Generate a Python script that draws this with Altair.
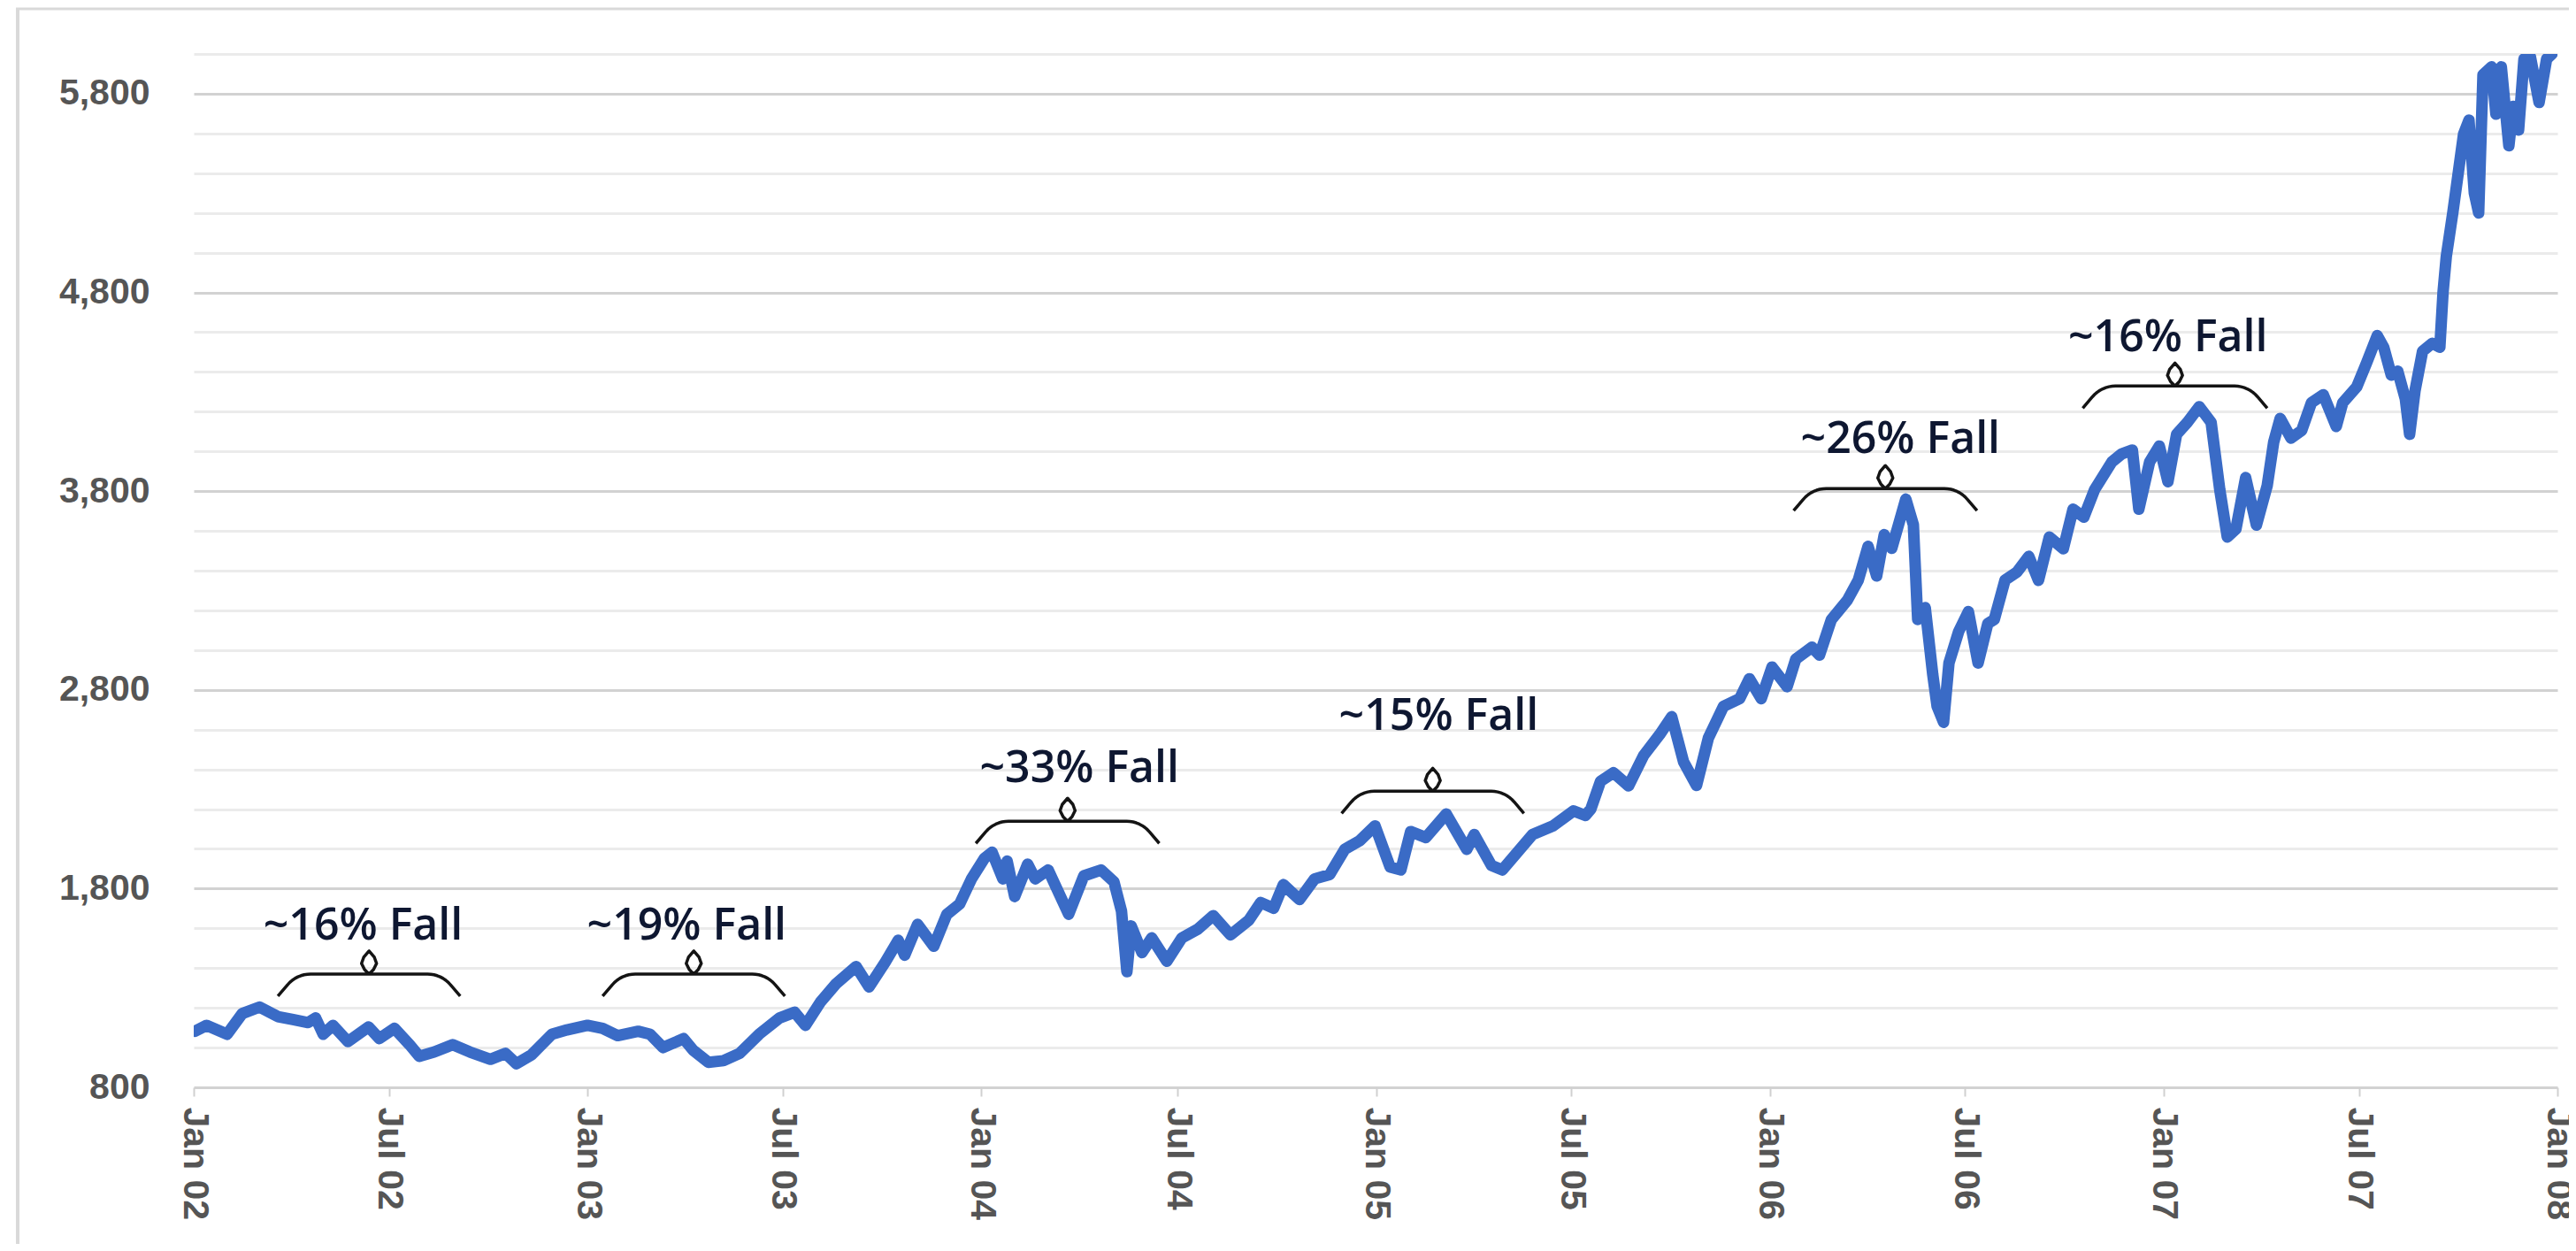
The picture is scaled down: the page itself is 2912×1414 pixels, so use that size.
import math
import altair as alt
import pandas as pd

# ---------------- data ----------------
dates = [
    "2002-01-02", "2002-01-13", "2002-02-01", "2002-02-15", "2002-03-03", "2002-03-20",
    "2002-04-03", "2002-04-17", "2002-04-24", "2002-05-01", "2002-05-10", "2002-05-24",
    "2002-06-12", "2002-06-22", "2002-07-06", "2002-07-20", "2002-07-29", "2002-08-12",
    "2002-08-29", "2002-09-14", "2002-10-03", "2002-10-17", "2002-10-27", "2002-11-10",
    "2002-11-29", "2002-12-13", "2003-01-01", "2003-01-15", "2003-01-29", "2003-02-17",
    "2003-02-28", "2003-03-12", "2003-03-31", "2003-04-09", "2003-04-23", "2003-05-07",
    "2003-05-22", "2003-06-09", "2003-06-28", "2003-07-12", "2003-07-22", "2003-08-05",
    "2003-08-19", "2003-09-07", "2003-09-19", "2003-10-04", "2003-10-16", "2003-10-22",
    "2003-11-03", "2003-11-18", "2003-11-30", "2003-12-12", "2003-12-23",
    "2004-01-04", "2004-01-11", "2004-01-21", "2004-01-25", "2004-02-01", "2004-02-13",
    "2004-02-20", "2004-03-03", "2004-03-22", "2004-04-05", "2004-04-21", "2004-05-03",
    "2004-05-10", "2004-05-15", "2004-05-19", "2004-05-29", "2004-06-07", "2004-06-21",
    "2004-07-05", "2004-07-20", "2004-08-03", "2004-08-19", "2004-09-05", "2004-09-16",
    "2004-09-28", "2004-10-07", "2004-10-22", "2004-11-05", "2004-11-19", "2004-12-03",
    "2004-12-17", "2004-12-31", "2005-01-14", "2005-01-24", "2005-02-02", "2005-02-16",
    "2005-03-07", "2005-03-26", "2005-04-02", "2005-04-18", "2005-04-28", "2005-05-12",
    "2005-05-26", "2005-06-14", "2005-07-03", "2005-07-14", "2005-07-19", "2005-07-28",
    "2005-08-09", "2005-08-23", "2005-09-06", "2005-09-21", "2005-10-02", "2005-10-13",
    "2005-10-25", "2005-11-05", "2005-11-19", "2005-12-04", "2005-12-13", "2005-12-24",
    "2006-01-03", "2006-01-17", "2006-01-25", "2006-02-09", "2006-02-16", "2006-02-27",
    "2006-03-14", "2006-03-24", "2006-04-02", "2006-04-10", "2006-04-17", "2006-04-24",
    "2006-05-07", "2006-05-14", "2006-05-18", "2006-05-25", "2006-06-01", "2006-06-05",
    "2006-06-11", "2006-06-16", "2006-06-25", "2006-07-04", "2006-07-13", "2006-07-22",
    "2006-07-28", "2006-08-07", "2006-08-18", "2006-08-29", "2006-09-07", "2006-09-17",
    "2006-09-30", "2006-10-09", "2006-10-19", "2006-10-29", "2006-11-14", "2006-11-23",
    "2006-12-03", "2006-12-09", "2006-12-19", "2006-12-28", "2007-01-05", "2007-01-13",
    "2007-01-23", "2007-02-03", "2007-02-14", "2007-02-22", "2007-03-01", "2007-03-09",
    "2007-03-18", "2007-03-28", "2007-04-07", "2007-04-13", "2007-04-19", "2007-04-29",
    "2007-05-09", "2007-05-18", "2007-05-29", "2007-06-10", "2007-06-16", "2007-06-29",
    "2007-07-08", "2007-07-18", "2007-07-24", "2007-07-31", "2007-08-06", "2007-08-13",
    "2007-08-17", "2007-08-22", "2007-08-29", "2007-09-07", "2007-09-14", "2007-09-17",
    "2007-09-20", "2007-09-26", "2007-10-01", "2007-10-06", "2007-10-11", "2007-10-16",
    "2007-10-20", "2007-10-24", "2007-11-01", "2007-11-05", "2007-11-10", "2007-11-17",
    "2007-11-21", "2007-11-26", "2007-12-01", "2007-12-07", "2007-12-15", "2007-12-22",
    "2007-12-27",
]
values = [
    1082, 1112, 1067, 1171, 1204, 1156,
    1141, 1126, 1149, 1067, 1112, 1030,
    1104, 1045, 1097, 1015, 956, 978,
    1015, 978, 941, 971, 919, 963,
    1067, 1089, 1112, 1097, 1060, 1082,
    1067, 1000, 1045, 986, 926, 934,
    971, 1067, 1149, 1178, 1112, 1230,
    1319, 1408, 1305, 1430, 1540, 1465,
    1620, 1510, 1670, 1723, 1850,
    1953, 1983, 1849, 1938, 1760, 1923,
    1849, 1894, 1671, 1864, 1894, 1834,
    1686, 1382, 1612, 1478, 1552, 1434,
    1552, 1597, 1664, 1567, 1641, 1730,
    1701, 1820, 1745, 1849, 1871, 1998,
    2042, 2116, 1909, 1894, 2087, 2057,
    2176, 1998, 2072, 1916, 1894, 1983,
    2072, 2116, 2191, 2168, 2200, 2340,
    2383, 2317, 2470, 2576, 2665, 2438,
    2319, 2558, 2717, 2756, 2856, 2756,
    2915, 2816, 2955, 3015, 2975, 3154,
    3253, 3353, 3522, 3373, 3581, 3512,
    3760, 3631, 3154, 3214, 2876, 2717,
    2637, 2935, 3094, 3194, 2935, 3134,
    3154, 3353, 3393, 3472, 3351, 3569,
    3510, 3709, 3669, 3808, 3947, 3987,
    4007, 3709, 3947, 4027, 3848, 4086,
    4146, 4225, 4146, 3808, 3569, 3609,
    3868, 3629, 3828, 4047, 4166, 4067,
    4106, 4245, 4285, 4126, 4245, 4325,
    4444, 4583, 4524, 4384, 4404, 4265,
    4086, 4305, 4504, 4544, 4524, 4802,
    4981, 5200, 5398, 5597, 5667, 5299,
    5200, 5895, 5935, 5697, 5935, 5538,
    5736, 5617, 5975, 5985, 5756, 5975,
    6000,
]

# annotations: brace span (start, end, level) and label (x, y)
brace_starts = ["2002-03-20", "2003-01-15", "2003-12-27", "2004-11-30", "2006-01-23", "2006-10-18"]
brace_ends = ["2002-09-05", "2003-07-03", "2004-06-14", "2005-05-18", "2006-07-12", "2007-04-07"]
brace_levels = [1370, 1370, 2139, 2290, 3813, 4329]
labels = ["~16% Fall", "~19% Fall", "~33% Fall", "~15% Fall", "~26% Fall", "~16% Fall"]
label_dates = ["2002-06-07", "2003-04-03", "2004-04-01", "2005-02-28", "2006-05-02", "2007-01-05"]
label_levels = [1543, 1543, 2336, 2599, 3992, 4504]

x_ticks = ["2002-01-01", "2002-07-01", "2003-01-01", "2003-07-01", "2004-01-01", "2004-07-01",
           "2005-01-01", "2005-07-01", "2006-01-01", "2006-07-01", "2007-01-01", "2007-07-01",
           "2008-01-01"]
y_ticks = list(range(800, 6001, 200))

# ---------------- helpers ----------------


def ms(s):
    return int(pd.Timestamp(s, tz="UTC").value // 10**6)


W, H = 2672, 1168
X_DOMAIN = [ms("2002-01-01"), ms("2008-01-01")]
Y_DOMAIN = [800, 6000]
PX_PER_MS = W / (X_DOMAIN[1] - X_DOMAIN[0])
PX_PER_UNIT = H / (Y_DOMAIN[1] - Y_DOMAIN[0])

line_df = pd.DataFrame({"t": [ms(d) for d in dates], "v": values})


def brace_shape(half):
    # brace outline in pixel offsets (dx right, dy up) around its centre
    r, phi, drop, run = 34.0, math.radians(50), 25.0, 37.0
    left = [(-half, -drop)]
    for k in range(0, 9):
        a = math.radians(140) - phi * k / 8
        left.append((-half + run + r * math.cos(a), -r + r * math.sin(a)))
    loop = [(0, 0), (5, 5), (8.5, 12), (6, 19), (0, 26), (-6, 19), (-8.5, 12), (-5, 5), (0, 0)]
    right = [(-x, y) for (x, y) in reversed(left)]
    return left + loop + right


rows = []
for i, (s, e, lv) in enumerate(zip(brace_starts, brace_ends, brace_levels)):
    t0, t1 = ms(s), ms(e)
    c = (t0 + t1) / 2
    half = (t1 - t0) * PX_PER_MS / 2
    for k, (dx, dy) in enumerate(brace_shape(half)):
        rows.append({"id": i, "k": k, "t": c + dx / PX_PER_MS, "v": lv + dy / PX_PER_UNIT})
brace_df = pd.DataFrame(rows)

text_df = pd.DataFrame({"t": [ms(d) for d in label_dates], "v": label_levels, "label": labels})

# ---------------- chart ----------------
x_scale = alt.Scale(type="utc", domain=X_DOMAIN, nice=False)
y_scale = alt.Scale(domain=Y_DOMAIN, nice=False, zero=False)

x_axis = alt.Axis(
    values=[ms(d) for d in x_ticks], format="%b %y", labelAngle=90,
    labelFont="Liberation Sans", labelFontWeight="bold", labelFontSize=41,
    labelColor="#555555", tickColor="#d0d0d0", tickWidth=2, tickSize=10,
    labelPadding=12, domain=False, grid=False, labelOverlap=False,
    labelFlush=False, labelBound=False, title=None,
)
y_axis = alt.Axis(
    values=y_ticks,
    labelExpr="(datum.value - 800) % 1000 === 0 ? format(datum.value, ',') : ''",
    labelFont="Liberation Sans", labelFontWeight="bold", labelFontSize=41,
    labelColor="#555555", labelPadding=50, ticks=False, domain=False,
    labelOverlap=False,
    gridColor={"condition": {"test": "(datum.value - 800) % 1000 === 0", "value": "#d2d2d2"},
               "value": "#ebebeb"},
    gridWidth=3, title=None,
)

line = alt.Chart(line_df).mark_line(
    color="#3A6BC6", strokeWidth=13, strokeJoin="round", strokeCap="round", clip=True
).encode(
    x=alt.X("t:T", scale=x_scale, axis=x_axis),
    y=alt.Y("v:Q", scale=y_scale, axis=y_axis),
)

braces = alt.Chart(brace_df).mark_line(
    color="#141414", strokeWidth=3.5, strokeJoin="round", strokeCap="butt"
).encode(
    x="t:T", y="v:Q", detail="id:N", order="k:Q"
)

texts = alt.Chart(text_df).mark_text(
    font="Open Sans", fontSize=50, fontWeight=600, color="#0E1731",
    align="center", baseline="alphabetic"
).encode(x="t:T", y="v:Q", text="label:N")

frame_df = pd.DataFrame({"a": [0]})
frame_left = alt.Chart(frame_df).mark_rule(color="#d9d9d9", strokeWidth=4).encode(
    x=alt.value(-199), y=alt.value(-51), y2=alt.value(1400)
)
frame_top = alt.Chart(frame_df).mark_rule(color="#d9d9d9", strokeWidth=3).encode(
    x=alt.value(-201), x2=alt.value(2750), y=alt.value(-51)
)

chart = alt.layer(frame_left, frame_top, line, braces, texts).properties(
    width=W, height=H,
    autosize=alt.AutoSizeParams(type="none"),
    padding={"left": 211, "top": 53, "right": 13, "bottom": 177},
    background="white",
).configure_view(stroke=None)

chart.save("out.html", embed_options={"renderer": "svg", "actions": False})
